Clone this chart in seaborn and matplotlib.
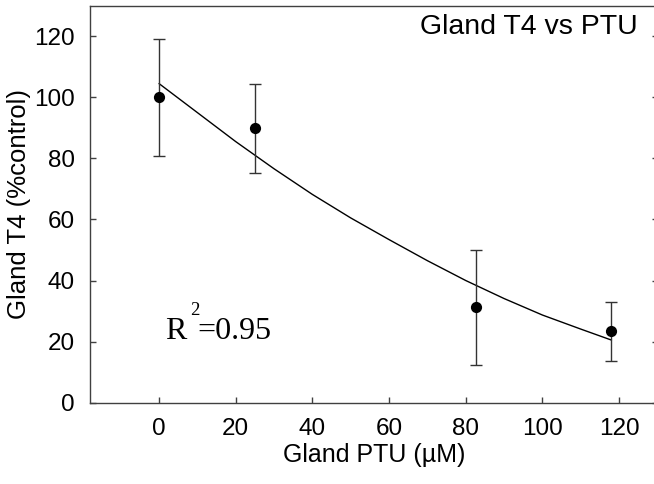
import numpy as np
import pandas as pd
import matplotlib
matplotlib.use('Agg')
import matplotlib.pyplot as plt
import seaborn as sns

# Datos
ptu = [0, 25, 82.6, 118]
t4_mean = [100, 89.8, 31.3, 23.4]
t4_err_low = [19.2, 14.6, 18.9, 9.8]
t4_err_high = [19.2, 14.4, 18.6, 9.5]

# Curva ajustada
fit_x = [0, 10, 20, 30, 40, 50, 60, 70, 80, 90, 100, 110, 118]
fit_y = [104.5, 95.0, 85.5, 76.6, 68.2, 60.5, 53.4, 46.5, 40.0, 34.1, 28.7, 24.1, 20.5]

x_ticks = [0, 20, 40, 60, 80, 100, 120]
y_ticks = [0, 20, 40, 60, 80, 100, 120]

sns.set_style('ticks')
plt.rcParams['font.family'] = ['Liberation Sans', 'DejaVu Sans']
plt.rcParams['text.color'] = 'black'
plt.rcParams['axes.labelcolor'] = 'black'
plt.rcParams['xtick.labelcolor'] = 'black'
plt.rcParams['ytick.labelcolor'] = 'black'

fig = plt.figure(figsize=(6.54, 4.84), dpi=100)
ax = fig.add_axes([90 / 654, 81.3 / 484, 567.5 / 654, 397 / 484])

df_pts = pd.DataFrame({'ptu': ptu, 't4': t4_mean})
df_fit = pd.DataFrame({'ptu': fit_x, 't4': fit_y})

sns.lineplot(data=df_fit, x='ptu', y='t4', ax=ax, color='black', linewidth=1.0)
ax.errorbar(ptu, t4_mean, yerr=[t4_err_low, t4_err_high], fmt='none',
            ecolor='#333333', elinewidth=1.0, capsize=4, capthick=1.0, zorder=3)
sns.scatterplot(data=df_pts, x='ptu', y='t4', ax=ax, color='black', s=65,
                edgecolor='black', linewidth=0, zorder=4)

ax.set_xlim(-18, 130)
ax.set_ylim(0, 130)
ax.set_xticks(x_ticks)
ax.set_yticks(y_ticks)
ax.tick_params(axis='both', direction='in', length=4, width=1, color='#404040',
               labelcolor='black', labelsize=17.5, pad=11)
ax.tick_params(axis='y', right=True, labelright=False)
ax.tick_params(axis='x', top=False)

for s in ax.spines.values():
    s.set_visible(True)
    s.set_color('#404040')
    s.set_linewidth(1.0)

ax.set_xlabel('Gland PTU (µM)', fontsize=18, labelpad=2, color='black')
ax.set_ylabel('Gland T4 (%control)', fontsize=18.5, labelpad=2, color='black')

ax.text(638 / 654, 1 - 34 / 484, 'Gland T4 vs PTU', transform=fig.transFigure,
        ha='right', va='baseline', fontsize=20.5, color='black')

ax.text(165 / 654, 1 - 339 / 484, 'R', transform=fig.transFigure, ha='left',
        va='baseline', fontsize=23, family='Liberation Serif', color='black')
ax.text(190 / 654, 1 - 315 / 484, '2', transform=fig.transFigure, ha='left',
        va='baseline', fontsize=13.5, family='Liberation Serif', color='black')
ax.text(197 / 654, 1 - 339 / 484, '=0.95', transform=fig.transFigure, ha='left',
        va='baseline', fontsize=23, family='Liberation Serif', color='black')

fig.savefig('out.png', dpi=100)
